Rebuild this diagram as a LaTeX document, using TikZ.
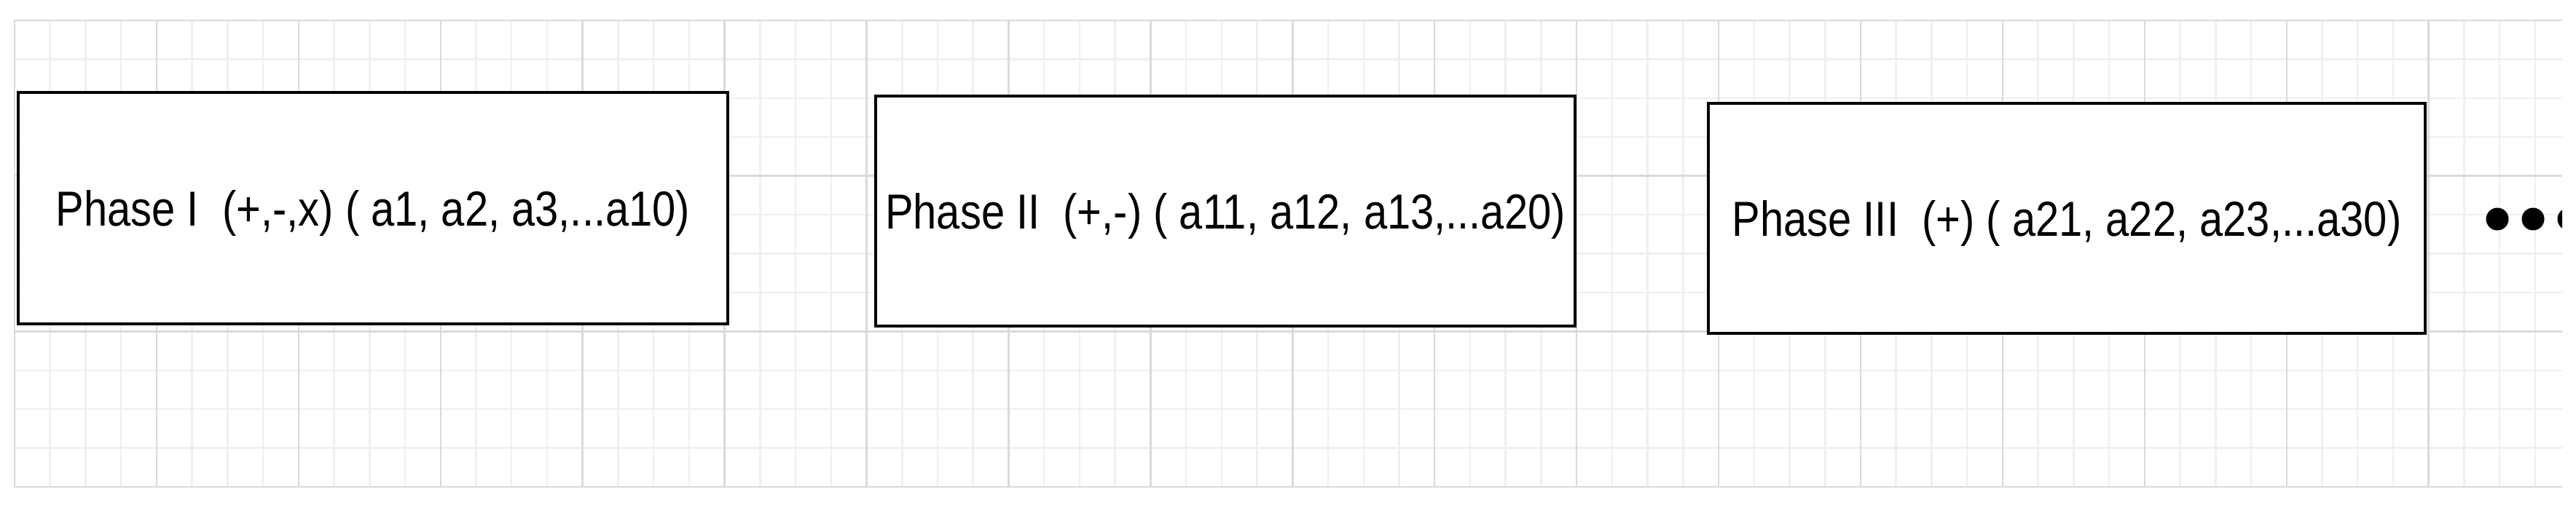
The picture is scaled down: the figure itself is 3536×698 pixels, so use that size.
\documentclass[tikz,border=0pt]{standalone}
\usepackage{fontspec}
\newfontfamily\phasefont[FakeStretch=0.856]{Liberation Sans}
\definecolor{minorgrid}{HTML}{EFEFEF}
\definecolor{majorgrid}{HTML}{DADADA}
\tikzset{
  minorline/.style={draw=minorgrid, line width=0.025cm},
  majorline/.style={draw=majorgrid, line width=0.025cm},
  phasebox/.style={draw=black, line width=0.04cm, fill=white, rectangle, inner sep=0pt,
    font=\phasefont\fontsize{19.23pt}{23pt}\selectfont, text height=0.484cm, text depth=0pt},
  dotmark/.style={circle, fill=black, draw=none, inner sep=0pt, minimum size=0.31cm}
}
\begin{document}
\begin{tikzpicture}[x=0.01cm,y=-0.01cm]
\useasboundingbox (0,0) rectangle (3536,698);
\begin{scope}
  \clip (0,0) rectangle (3517,698);
  % minor grid
  \foreach \k in {0,...,71} {
    \pgfmathsetmacro\xx{20+\k*48.73}
    \pgfmathtruncatemacro\mm{mod(\k,4)}
    \ifnum\mm=0\relax\else
      \draw[minorline] (\xx,28) -- (\xx,669);
    \fi
  }
  \foreach \j in {1,2,3,5,6,7,9,10,11} {
    \pgfmathsetmacro\yy{28+\j*53.42}
    \draw[minorline] (19,\yy) -- (3517,\yy);
  }
  % major grid
  \foreach \k in {0,4,...,68} {
    \pgfmathsetmacro\xx{20+\k*48.73}
    \draw[majorline] (\xx,28) -- (\xx,669);
  }
  \foreach \j in {0,4,8,12} {
    \pgfmathsetmacro\yy{28+\j*53.42}
    \draw[majorline] (19,\yy) -- (3517,\yy);
  }
  % continuation dots
  \node[dotmark] (d1) at (3428,301) {};
  \node[dotmark] (d2) at (3477,301) {};
  \node[dotmark] (d3) at (3526,301) {};
\end{scope}
\node[phasebox, minimum width=9.74cm, minimum height=3.18cm] (b1) at (512,286)
  {Phase I\ \ (+,-,x) ( a1, a2, a3,...a10)};
\node[phasebox, minimum width=9.60cm, minimum height=3.16cm] (b2) at (1682,290)
  {Phase II\ \ (+,-) ( a11, a12, a13,...a20)};
\node[phasebox, minimum width=9.84cm, minimum height=3.16cm] (b3) at (2837,300)
  {Phase III\ \ (+) ( a21, a22, a23,...a30)};
\end{tikzpicture}
\end{document}
